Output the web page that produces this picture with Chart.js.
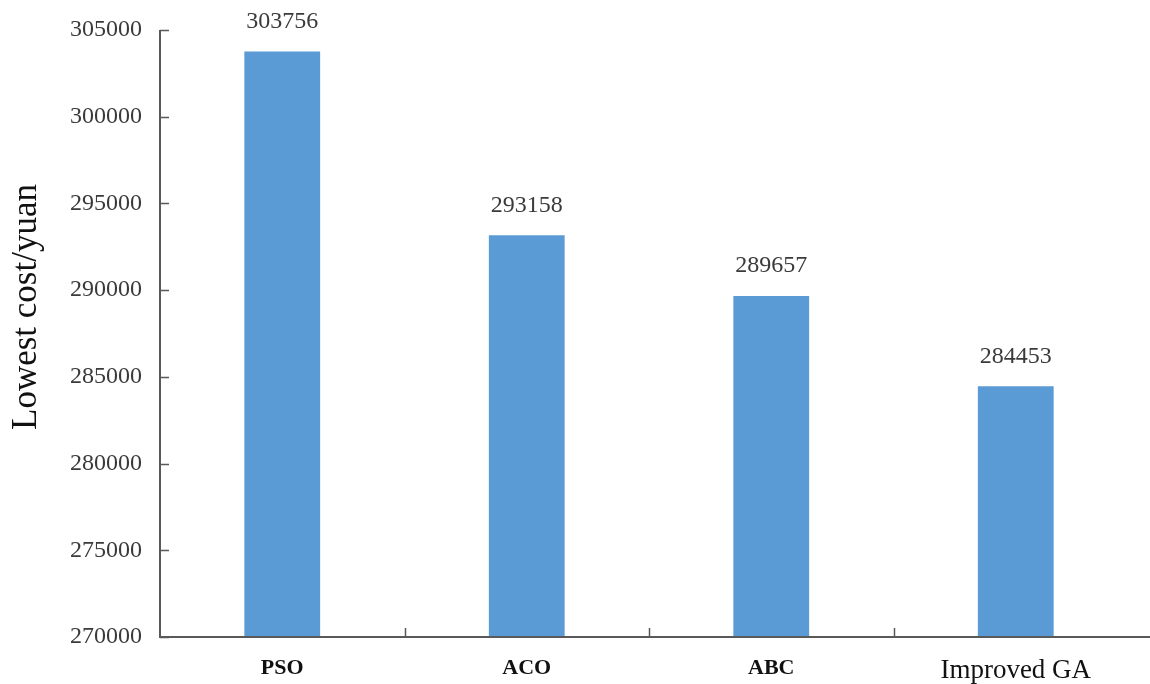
<!DOCTYPE html>
<html>
<head>
<meta charset="utf-8">
<script src="https://cdn.jsdelivr.net/npm/chart.js@4/dist/chart.umd.min.js"></script>
<style>
  html, body { margin: 0; padding: 0; background: #fff; }
  #wrap { width: 1150px; height: 684px; }
</style>
</head>
<body>
<div id="wrap"><canvas id="chart-bars-cost" width="1150" height="684"></canvas></div>
<script>
var algorithms = ["PSO", "ACO", "ABC", "Improved GA"];
var lowestCost = [303756, 293158, 289657, 284453];
var yTicks = [270000, 275000, 280000, 285000, 290000, 295000, 300000, 305000];
var yTitle = "Lowest cost/yuan";

var axisColor = "#595959";
var textColor = "#3a3a3a";

// axis lines, inward tick marks, y title and the value printed above each bar
var axisDecor = {
  id: "axisDecor",
  afterDatasetsDraw: function (chart) {
    var c = chart.ctx;
    var area = chart.chartArea;
    var x = chart.scales.x;
    var y = chart.scales.y;
    c.save();
    c.strokeStyle = axisColor;
    c.lineWidth = 2;
    c.beginPath();
    c.moveTo(area.left, y.getPixelForValue(yTicks[yTicks.length - 1]));
    c.lineTo(area.left, area.bottom);
    c.lineTo(chart.width, area.bottom);
    c.stroke();

    c.lineWidth = 1.5;
    c.beginPath();
    yTicks.forEach(function (v) {
      var py = Math.round(y.getPixelForValue(v)) + 0.5;
      c.moveTo(area.left, py);
      c.lineTo(area.left + 9, py);
    });
    for (var i = 1; i < algorithms.length; i++) {
      var px = Math.round((x.getPixelForValue(i - 1) + x.getPixelForValue(i)) / 2) + 0.5;
      c.moveTo(px, area.bottom);
      c.lineTo(px, area.bottom - 9);
    }
    c.stroke();

    c.fillStyle = textColor;
    c.font = "24px 'Liberation Serif'";
    c.textAlign = "center";
    c.textBaseline = "middle";
    lowestCost.forEach(function (v, i) {
      c.fillText(String(v), x.getPixelForValue(i), y.getPixelForValue(v) - 30);
    });

    c.fillStyle = "#111";
    c.font = "35px 'Liberation Serif'";
    c.translate(27, 307);
    c.rotate(-Math.PI / 2);
    c.fillText(yTitle, 0, 0);
    c.restore();
  },
};

var ctx = document.getElementById("chart-bars-cost").getContext("2d");

new Chart(ctx, {
  type: "bar",
  data: {
    labels: algorithms,
    datasets: [
      {
        label: "Lowest cost",
        backgroundColor: "#5b9bd5",
        borderWidth: 0,
        data: lowestCost,
        barPercentage: 0.31,
        categoryPercentage: 1,
        base: 270000,
      },
    ],
  },
  options: {
    responsive: false,
    animation: false,
    layout: {
      padding: { top: 16, right: 12, left: 0, bottom: 0 },
    },
    plugins: {
      legend: { display: false },
      tooltip: { enabled: false },
    },
    scales: {
      y: {
        min: 270000,
        max: 305000,
        afterFit: function (scale) {
          scale.width = 160;
        },
        afterBuildTicks: function (scale) {
          scale.ticks = yTicks.map(function (v) {
            return { value: v };
          });
        },
        border: { display: false },
        grid: { display: false, drawTicks: false },
        ticks: {
          padding: 18,
          color: textColor,
          font: { size: 24, family: "Liberation Serif", lineHeight: 1 },
          callback: function (value) {
            return String(value);
          },
        },
      },
      x: {
        afterFit: function (scale) {
          scale.height = 47;
        },
        border: { display: false },
        grid: { display: false, drawTicks: false },
        ticks: {
          padding: 18,
          color: "#111",
          maxRotation: 0,
          font: function (context) {
            if (context.index === 3) {
              return { size: 27, family: "Liberation Serif" };
            }
            return { size: 22, weight: "bold", family: "Liberation Serif" };
          },
        },
      },
    },
  },
  plugins: [axisDecor],
});
</script>
</body>
</html>
